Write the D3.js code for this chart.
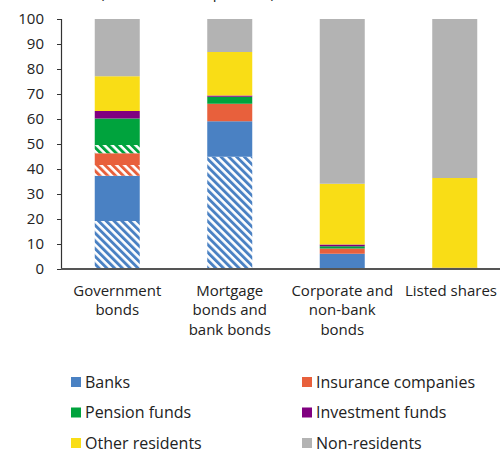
<!DOCTYPE html>
<html>
<head>
<meta charset="utf-8">
<script src="https://cdn.jsdelivr.net/npm/d3@7"></script>
<style>
  body { margin: 0; background: #fff; }
  svg { display: block; font-family: "Open Sans", "Noto Sans", sans-serif; }
</style>
</head>
<body>
<svg id="chart" width="500" height="452"></svg>
<script>
// categories (x axis, split into lines)
const categories = [
  ['Government', 'bonds'],
  ['Mortgage', 'bonds and', 'bank bonds'],
  ['Corporate and', 'non-bank', 'bonds'],
  ['Listed shares']
];
const yTicks = [0, 10, 20, 30, 40, 50, 60, 70, 80, 90, 100];

// holdings, per cent (bottom to top). hatched = part shown striped
const banksHatched = [19.2, 44.9, 0, 0];
const banks = [18.1, 14.2, 6.1, 0];
const insuranceHatched = [4.3, 0, 0, 0];
const insurance = [4.7, 7.0, 2.1, 0];
const pensionHatched = [3.3, 0, 0, 0];
const pension = [10.6, 2.8, 0.9, 0];
const investment = [3.0, 0.5, 0.7, 0.5];
const otherResidents = [13.9, 17.4, 24.3, 35.9];
const nonResidents = [22.9, 13.2, 65.9, 63.6];

const colors = {
  banks: '#4a81c3',
  insurance: '#e8603c',
  pension: '#00a33d',
  investment: '#800080',
  other: '#f9dd16',
  nonres: '#b3b3b3'
};

// series in stack order
const series = [
  { key: 'banksH', values: banksHatched, color: colors.banks, hatch: true },
  { key: 'banks', values: banks, color: colors.banks },
  { key: 'insuranceH', values: insuranceHatched, color: colors.insurance, hatch: true },
  { key: 'insurance', values: insurance, color: colors.insurance },
  { key: 'pensionH', values: pensionHatched, color: colors.pension, hatch: true },
  { key: 'pension', values: pension, color: colors.pension },
  { key: 'investment', values: investment, color: colors.investment },
  { key: 'other', values: otherResidents, color: colors.other },
  { key: 'nonres', values: nonResidents, color: colors.nonres }
];

const legendItems = [
  ['Banks', colors.banks], ['Insurance companies', colors.insurance],
  ['Pension funds', colors.pension], ['Investment funds', colors.investment],
  ['Other residents', colors.other], ['Non-residents', colors.nonres]
];

const svg = d3.select('#chart');
const plotLeft = 61, plotTop = 19, plotBottom = 269;

// table for d3.stack
const table = categories.map((c, i) => {
  const row = { idx: i };
  series.forEach(s => { row[s.key] = s.values[i]; });
  return row;
});
const stacked = d3.stack().keys(series.map(s => s.key))(table);

const x = d3.scaleBand()
  .domain(categories.map((c, i) => i))
  .range([plotLeft, plotLeft + 450])
  .paddingInner(0.6)
  .paddingOuter(0.3);
const y = d3.scaleLinear().domain([0, 100]).range([plotBottom, plotTop]);

// hatch patterns
const defs = svg.append('defs');
series.filter(s => s.hatch).forEach(s => {
  const p = defs.append('pattern')
    .attr('id', 'hatch-' + s.key)
    .attr('patternUnits', 'userSpaceOnUse')
    .attr('width', 5.5)
    .attr('height', 5.5)
    .attr('patternTransform', 'rotate(-45)');
  p.append('rect').attr('width', 5.5).attr('height', 5.5).attr('fill', '#fff');
  p.append('rect').attr('width', 2.9).attr('height', 5.5).attr('fill', s.color);
});

// clipped title line at the very top
svg.append('text')
  .attr('x', 100)
  .attr('y', -2.5)
  .attr('font-size', 15)
  .attr('fill', '#222')
  .text('(Nominal value, per cent)');

// bars
svg.append('g')
  .selectAll('g')
  .data(stacked)
  .join('g')
  .attr('fill', (d, i) => series[i].hatch ? `url(#hatch-${series[i].key})` : series[i].color)
  .selectAll('rect')
  .data(d => d)
  .join('rect')
  .attr('x', d => x(d.data.idx))
  .attr('width', x.bandwidth())
  .attr('y', d => y(d[1]))
  .attr('height', d => Math.max(0, y(d[0]) - y(d[1])));

// y axis
const yAxis = svg.append('g')
  .attr('transform', `translate(${plotLeft},0)`)
  .call(d3.axisLeft(y).tickValues(yTicks).tickSize(4).tickPadding(13).tickSizeOuter(4));
yAxis.select('.domain').attr('stroke', '#333').attr('stroke-width', 1.2);
yAxis.selectAll('.tick line').attr('stroke', '#333');
yAxis.selectAll('.tick text').attr('font-size', 15).attr('fill', '#222')
  .attr('font-family', '"Open Sans", "Noto Sans", sans-serif');

// x axis line
svg.append('line')
  .attr('x1', plotLeft).attr('x2', 500)
  .attr('y1', plotBottom).attr('y2', plotBottom)
  .attr('stroke', '#555').attr('stroke-width', 1.8);

// category labels
const catLabels = svg.append('g')
  .selectAll('text')
  .data(categories)
  .join('text')
  .attr('text-anchor', 'middle')
  .attr('font-size', 15)
  .attr('fill', '#222')
  .attr('transform', (d, i) => `translate(${x(i) + x.bandwidth() / 2},296)`);
catLabels.selectAll('tspan')
  .data(d => d)
  .join('tspan')
  .attr('x', 0)
  .attr('dy', (d, i) => i === 0 ? 0 : 19.3)
  .text(d => d);
// keep the last label inside the right edge
catLabels.each(function(d, i) {
  const w = this.getBBox().width;
  let cx = x(i) + x.bandwidth() / 2;
  if (cx + w / 2 > 497) cx = 497 - w / 2;
  d3.select(this).attr('transform', `translate(${cx},296)`);
});

// legend
const legend = svg.append('g')
  .selectAll('g')
  .data(legendItems)
  .join('g')
  .attr('transform', (d, i) => `translate(${i % 2 === 0 ? 71 : 302},${382 + Math.floor(i / 2) * 30.5})`);
legend.append('rect')
  .attr('x', 0).attr('y', -5)
  .attr('width', 10).attr('height', 10)
  .attr('fill', d => d[1]);
legend.append('text')
  .attr('x', 14)
  .attr('y', 5.5)
  .attr('font-size', 16)
  .attr('fill', '#222')
  .text(d => d[0]);
</script>
</body>
</html>
